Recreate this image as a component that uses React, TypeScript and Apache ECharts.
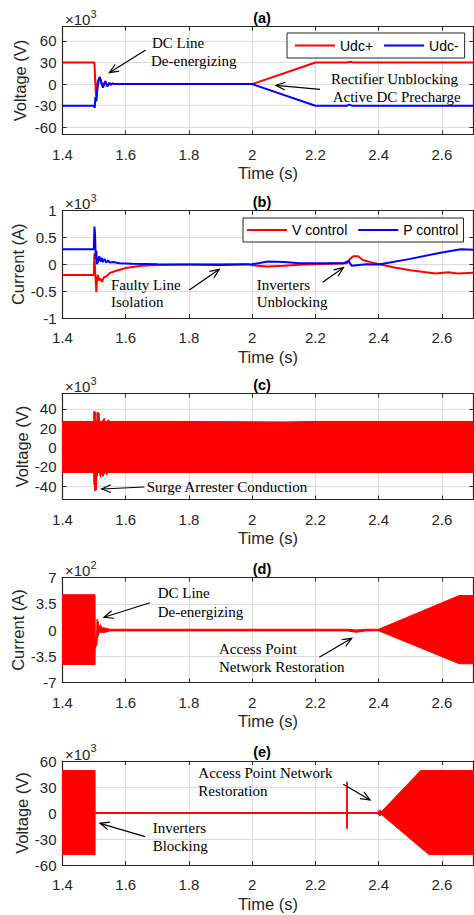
import React, { useEffect, useRef } from "react";
import * as echarts from "echarts";

// ---------- shared axis values ----------
const X_MIN = 1.4;
const X_MAX = 2.7;
const X_TICKS = [1.4, 1.6, 1.8, 2.0, 2.2, 2.4, 2.6];

// ---------- (a) DC voltages, x10^3 V ----------
const A_TICKS = [-60, -30, 0, 30, 60];
const tUdcPos = [1.4, 1.501, 1.503, 1.506, 1.509, 1.513, 1.518, 1.523, 1.528, 1.535, 1.542, 1.548, 1.553, 1.558, 1.565, 2.0, 2.2, 2.3, 2.31, 2.32, 2.7];
const vUdcPos = [30, 30, 10, -17, -3, 6, 9, 2, -4, 4, -3, 1.5, -1, 1, 0, 0, 30, 30, 31, 30, 30];
const tUdcNeg = [1.4, 1.5, 1.502, 1.504, 1.507, 1.51, 1.514, 1.518, 1.523, 1.528, 1.535, 1.542, 1.548, 1.553, 1.558, 1.565, 2.0, 2.2, 2.3, 2.307, 2.315, 2.7];
const vUdcNeg = [-30, -30, -33, -18, -24, -8, 4, 10, 2, -5, 4, -3, 1.5, -1, 1, 0, 0, -30, -30, -28.5, -30, -30];

// ---------- (b) DC currents, x10^3 A ----------
const B_TICKS = [-1, -0.5, 0, 0.5, 1];
const tVctrl = [1.4, 1.499, 1.501, 1.503, 1.505, 1.507, 1.509, 1.512, 1.515, 1.52, 1.525, 1.53, 1.54, 1.55, 1.57, 1.6, 1.65, 1.7, 1.8, 1.9, 1.99, 2.0, 2.05, 2.1, 2.15, 2.2, 2.3, 2.31, 2.32, 2.335, 2.35, 2.38, 2.41, 2.45, 2.5, 2.55, 2.58, 2.62, 2.65, 2.7];
const vVctrl = [-0.2, -0.2, 0.2, -0.1, -0.3, -0.52, -0.3, -0.2, -0.3, -0.27, -0.33, -0.25, -0.22, -0.16, -0.12, -0.07, -0.03, -0.015, -0.005, 0.0, 0.0, -0.02, -0.04, -0.03, -0.01, 0.0, 0.02, 0.1, 0.15, 0.15, 0.08, 0.03, -0.01, -0.06, -0.11, -0.15, -0.17, -0.15, -0.17, -0.16];
const tPctrl = [1.4, 1.499, 1.501, 1.503, 1.505, 1.507, 1.509, 1.512, 1.516, 1.52, 1.524, 1.528, 1.533, 1.538, 1.544, 1.55, 1.56, 1.58, 1.62, 1.7, 1.8, 1.9, 2.0, 2.05, 2.1, 2.15, 2.2, 2.29, 2.305, 2.315, 2.33, 2.36, 2.4, 2.5, 2.6, 2.66, 2.7];
const vPctrl = [0.28, 0.28, 0.7, 0.55, 0.1, 0.25, 0.0, 0.05, 0.15, 0.05, 0.12, 0.04, 0.1, 0.03, 0.07, 0.03, 0.04, 0.02, 0.01, 0.0, -0.005, -0.015, 0.0, 0.05, 0.04, 0.02, 0.02, 0.02, 0.06, -0.03, -0.02, 0.0, -0.005, 0.1, 0.22, 0.28, 0.27];

// ---------- (c) AC voltage envelope, x10^3 V ----------
const C_TICKS = [-40, -20, 0, 20, 40];
const tC = [1.4, 1.4995, 1.5, 1.503, 1.5035, 1.507, 1.509, 1.51, 1.512, 1.515, 1.517, 1.52, 1.524, 1.528, 1.532, 1.535, 1.54, 1.545, 1.55, 1.8, 2.1, 2.2, 2.7];
const upC = [27, 27, 37.5, 37, 27, 27, 27, 36.5, 36, 35.5, 27, 27, 27, 28, 30, 27, 27, 28.5, 27, 27, 26.5, 27, 27];
const loC = [-26, -26, -38, -45, -45, -44, -30, -27, -26, -26, -26, -31, -26, -30, -27, -26, -28, -26, -26, -26, -26, -26, -26];

// ---------- (d) AC current envelope, x10^2 A ----------
const D_TICKS = [-7, -3.5, 0, 3.5, 7];
const tD = [1.4, 1.502, 1.503, 1.508, 1.51, 1.513, 1.516, 1.52, 1.525, 1.53, 1.55, 2.3, 2.33, 2.36, 2.4, 2.655, 2.7];
const upD = [4.7, 4.7, -0.9, -0.6, 1.4, 1.0, 0.4, 0.7, 0.25, 0.3, 0.1, 0.1, 0.0, 0.1, 0.1, 4.6, 4.6];
const loD = [-4.6, -4.6, -2.4, -2.0, -1.0, -0.8, -0.3, -0.3, -0.3, -0.35, -0.12, -0.12, -0.3, -0.12, -0.1, -4.5, -4.5];

// ---------- (e) AC voltage envelope, x10^3 V ----------
const E_TICKS = [-60, -30, 0, 30, 60];
const tE = [1.4, 1.502, 1.5025, 2.2995, 2.3, 2.3005, 2.395, 2.403, 2.41, 2.533, 2.56, 2.7];
const upE = [49, 49, 0.5, 0.5, 36, 0.5, 0.5, 3, 2, 49, 49, 49];
const loE = [-48, -48, -0.5, -0.5, -18, -0.5, -0.5, -3, -2, -40, -48, -48];

// ---------- layout (pixels) ----------
const PLOT_LEFT = 62.5;
const PLOT_WIDTH = 411;
const PANELS = [
  { tag: "(a)", top: 26.5, height: 108, min: -70, max: 80, ticks: A_TICKS, name: "Voltage (V)", nameGap: 34, exp: "3" },
  { tag: "(b)", top: 210.5, height: 107.5, min: -1, max: 1, ticks: B_TICKS, name: "Current (A)", nameGap: 36, exp: "3" },
  { tag: "(c)", top: 393.5, height: 106, min: -54, max: 56, ticks: C_TICKS, name: "Voltage (V)", nameGap: 32.5, exp: "3" },
  { tag: "(d)", top: 577.5, height: 105, min: -7, max: 7, ticks: D_TICKS, name: "Current (A)", nameGap: 36, exp: "2" },
  { tag: "(e)", top: 761, height: 104, min: -60, max: 60, ticks: E_TICKS, name: "Voltage (V)", nameGap: 32.5, exp: "3" },
];

const NOTES = [
  { lines: [["DC Line", 152, 43], ["De-energizing", 151, 61]], arrow: [145.7, 50, 109.3, 72.7] },
  { lines: [["Rectifier Unblocking", 331, 79], ["Active DC Precharge", 332.7, 96.7]], arrow: [320, 89.3, 276, 85.3] },
  { lines: [["Faulty Line", 111, 285], ["Isolation", 111, 302.3]], arrow: [189.3, 290, 219.3, 269.3] },
  { lines: [["Inverters", 256.7, 285], ["Unblocking", 256.7, 302.3]], arrow: [322.7, 282.3, 343.3, 267.7] },
  { lines: [["Surge Arrester Conduction", 146.7, 487.3]], arrow: [144.3, 487, 101.7, 489] },
  { lines: [["DC Line", 157.7, 593.3], ["De-energizing", 157.7, 611.7]], arrow: [150, 602.7, 104, 617.3] },
  { lines: [["Access Point", 219, 649.3], ["Network Restoration", 219, 667.3]], arrow: [319.3, 657.3, 351.7, 638.3] },
  { lines: [["Access Point Network", 198.3, 773.3], ["Restoration", 198.3, 791]], arrow: [343.3, 784.3, 370, 800] },
  { lines: [["Inverters", 152.7, 828.3], ["Blocking", 152.7, 846]], arrow: [145, 836.7, 100, 823.3] },
];

const SANS = '"Liberation Sans", Arial, sans-serif';
const SERIF = '"Liberation Serif", "Times New Roman", serif';
const AX = "#262626";
const GRIDC = "#dcdcdc";
const RED = "#ff0000";
const BLUE = "#0000ff";

const pairs = (t: number[], v: number[]) => t.map((x, i) => [x, v[i]]);
const fmtX = (v: number) => String(Math.round(v * 10) / 10);

function arrowEls(x1: number, y1: number, x2: number, y2: number) {
  const ang = Math.atan2(y2 - y1, x2 - x1);
  const L = 10;
  const a = 0.4;
  return [
    { type: "line", shape: { x1, y1, x2, y2 }, style: { stroke: "#000", lineWidth: 1.2 }, z: 100 },
    {
      type: "polyline",
      shape: {
        points: [
          [x2 - L * Math.cos(ang - a), y2 - L * Math.sin(ang - a)],
          [x2, y2],
          [x2 - L * Math.cos(ang + a), y2 - L * Math.sin(ang + a)],
        ],
      },
      style: { stroke: "#000", fill: null, lineWidth: 1.2 },
      z: 100,
    },
  ];
}

function lineSeries(name: string, idx: number, t: number[], v: number[], color: string, z: number) {
  return {
    name,
    type: "line",
    xAxisIndex: idx,
    yAxisIndex: idx,
    data: pairs(t, v),
    symbol: "none",
    showSymbol: false,
    lineStyle: { color, width: 2 },
    itemStyle: { color },
    z,
  };
}

// envelope band of a dense AC waveform: one filled quad per pair of neighbouring samples
function bandSeries(name: string, idx: number, t: number[], up: number[], lo: number[]) {
  return {
    name,
    type: "custom",
    xAxisIndex: idx,
    yAxisIndex: idx,
    data: t.map((x, i) => [x, up[i], lo[i]]),
    encode: { x: 0, y: [1, 2] },
    silent: true,
    z: 3,
    renderItem: (params: any, api: any) => {
      const i = params.dataIndex;
      if (i >= t.length - 1) return { type: "group", children: [] };
      const p1 = api.coord([t[i], up[i]]);
      const p2 = api.coord([t[i + 1], up[i + 1]]);
      const p3 = api.coord([t[i + 1], lo[i + 1]]);
      const p4 = api.coord([t[i], lo[i]]);
      return {
        type: "polygon",
        shape: { points: [p1, p2, p3, p4] },
        style: { fill: RED, stroke: RED, lineWidth: 1, lineJoin: "round" },
      };
    },
  };
}

export default function App() {
  const ref = useRef<HTMLDivElement>(null);
  useEffect(() => {
    if (!ref.current) return;
    const chart = echarts.init(ref.current, null, { renderer: "svg" });

    const grids = PANELS.map((p) => ({
      left: PLOT_LEFT,
      top: p.top,
      width: PLOT_WIDTH,
      height: p.height,
      containLabel: false,
      outerBoundsMode: "none",
      show: false,
    }));

    const tickStyle = { color: AX, width: 1 };
    const bottomX = PANELS.map((p, i) => ({
      type: "value",
      gridIndex: i,
      min: X_MIN,
      max: X_MAX,
      position: "bottom",
      axisLine: { show: true, onZero: false, lineStyle: { color: AX, width: 1.2 } },
      axisTick: { show: true, inside: true, length: 4, customValues: X_TICKS, lineStyle: tickStyle },
      axisLabel: { show: true, customValues: X_TICKS, formatter: fmtX, margin: 12, fontSize: 15, fontFamily: SANS, color: AX },
      splitLine: { show: true, lineStyle: { color: GRIDC, width: 1 } },
      name: "Time (s)",
      nameLocation: "middle",
      nameGap: 30,
      nameMoveOverlap: false,
      nameTextStyle: { fontSize: 16.5, fontFamily: SANS, color: AX },
    }));
    const topX = PANELS.map((p, i) => ({
      type: "value",
      gridIndex: i,
      min: X_MIN,
      max: X_MAX,
      position: "top",
      axisLine: { show: true, onZero: false, lineStyle: { color: AX, width: 1.2 } },
      axisTick: { show: true, inside: true, length: 4, customValues: X_TICKS, lineStyle: tickStyle },
      axisLabel: { show: false },
      splitLine: { show: false },
    }));
    const leftY = PANELS.map((p, i) => ({
      type: "value",
      gridIndex: i,
      min: p.min,
      max: p.max,
      position: "left",
      axisLine: { show: true, onZero: false, lineStyle: { color: AX, width: 1.2 } },
      axisTick: { show: true, inside: true, length: 4, customValues: p.ticks, lineStyle: tickStyle },
      axisLabel: { show: true, customValues: p.ticks, margin: 6, fontSize: 15, fontFamily: SANS, color: AX },
      splitLine: { show: true, lineStyle: { color: GRIDC, width: 1 } },
      name: p.name,
      nameLocation: "middle",
      nameGap: p.nameGap,
      nameMoveOverlap: false,
      nameTextStyle: { fontSize: 16.5, fontFamily: SANS, color: AX },
    }));
    const rightY = PANELS.map((p, i) => ({
      type: "value",
      gridIndex: i,
      min: p.min,
      max: p.max,
      position: "right",
      axisLine: { show: true, onZero: false, lineStyle: { color: AX, width: 1.2 } },
      axisTick: { show: true, inside: true, length: 4, customValues: p.ticks, lineStyle: tickStyle },
      axisLabel: { show: false },
      splitLine: { show: false },
    }));

    const series: any[] = [
      lineSeries("Udc+", 0, tUdcPos, vUdcPos, RED, 4),
      lineSeries("Udc-", 0, tUdcNeg, vUdcNeg, BLUE, 5),
      lineSeries("V control", 1, tVctrl, vVctrl, RED, 4),
      lineSeries("P control", 1, tPctrl, vPctrl, BLUE, 5),
      bandSeries("c", 2, tC, upC, loC),
      bandSeries("d", 3, tD, upD, loD),
      bandSeries("e", 4, tE, upE, loE),
    ];

    const graphics: any[] = [];
    PANELS.forEach((p) => {
      graphics.push({
        type: "text",
        x: 262,
        y: p.top - 9,
        style: { text: p.tag, font: `bold 14.5px ${SANS}`, fill: "#000", textAlign: "center", textVerticalAlign: "middle" },
        z: 100,
      });
      graphics.push({
        type: "text",
        x: 65,
        y: p.top - 7,
        style: { text: "\u00d710", font: `15px ${SANS}`, fill: AX, textAlign: "left", textVerticalAlign: "middle" },
        z: 100,
      });
      graphics.push({
        type: "text",
        x: 90.5,
        y: p.top - 13,
        style: { text: p.exp, font: `11px ${SANS}`, fill: AX, textAlign: "left", textVerticalAlign: "middle" },
        z: 100,
      });
    });
    NOTES.forEach((n) => {
      n.lines.forEach((l: any) => {
        graphics.push({
          type: "text",
          x: l[1],
          y: l[2],
          style: { text: l[0], font: `15px ${SERIF}`, fill: "#000", textAlign: "left", textVerticalAlign: "middle" },
          z: 100,
        });
      });
      const [x1, y1, x2, y2] = n.arrow;
      graphics.push(...arrowEls(x1, y1, x2, y2));
    });

    const legendBase = {
      orient: "horizontal",
      icon: "rect",
      itemHeight: 2,
      width: 400,
      borderColor: AX,
      borderWidth: 1,
      borderRadius: 0,
      backgroundColor: "#ffffff",
      textStyle: { fontSize: 14, fontFamily: SANS, color: "#000" },
      selectedMode: false,
      z: 50,
    };

    chart.setOption({
      animation: false,
      backgroundColor: "#ffffff",
      grid: grids,
      xAxis: [...bottomX, ...topX],
      yAxis: [...leftY, ...rightY],
      legend: [
        { ...legendBase, data: ["Udc+", "Udc-"], left: 287, top: 33, itemWidth: 40, itemGap: 11, padding: [5.5, 6, 5.5, 8] },
        { ...legendBase, data: ["V control", "P control"], left: 243, top: 218, itemWidth: 40, itemGap: 11, padding: [5, 5, 5, 4] },
      ],
      series,
      graphic: { elements: graphics },
    });

    return () => chart.dispose();
  }, []);

  return (
    <div
      ref={ref}
      style={{ position: "fixed", left: 0, top: 0, width: 474, height: 915, background: "#fff" }}
    />
  );
}
